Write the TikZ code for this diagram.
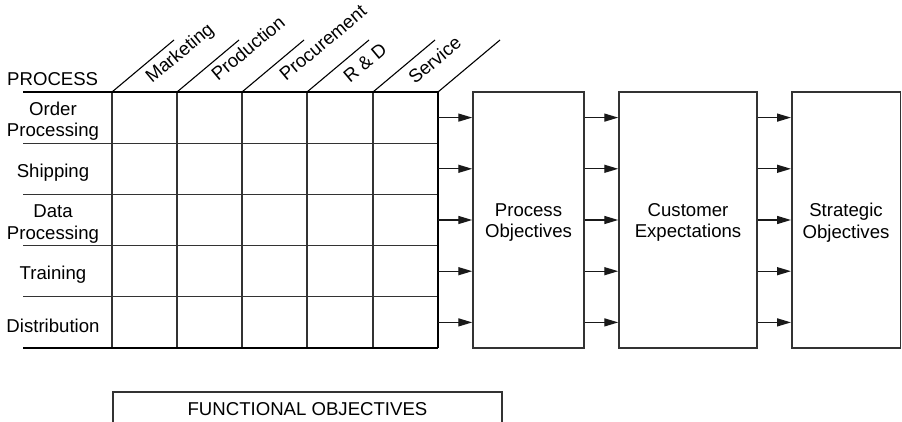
\documentclass[tikz,border=0pt]{standalone}
\usepackage{fontspec}
\setmainfont{Liberation Sans}
\usetikzlibrary{arrows.meta}
\begin{document}
\begin{tikzpicture}[x=1pt,y=-1pt,
  every node/.style={font=\fontsize{18.6}{21.5}\selectfont, text=black, inner sep=0pt},
  every label/.style={font=\fontsize{18.6}{21.5}\selectfont, text=black, inner sep=0pt, align=center},
  rowlabel/.style={align=center},
  collabel/.style={rotate=40, anchor=base west},
  thinline/.style={line width=1.3pt, black!80},
  thickline/.style={line width=2.2pt, black},
  diag/.style={line width=1.1pt, black},
  objbox/.style={draw=black!80, line width=1.5pt, minimum height=256pt},
  flow/.style={-{Triangle[length=14pt,width=8pt]}, line width=1.4pt, black!90}
]
\useasboundingbox (0,0) rectangle (902,422);

% matrix of processes against functions
\foreach \yy in {143.2,194.4,245.6,296.8}
  \draw[thinline] (23,\yy) -- (438,\yy);
\foreach \xx in {112,177,242,307,373}
  \draw[thinline] (\xx,92) -- (\xx,348);
\draw[thickline] (23,92) -- (438,92) -- (438,348);
\draw[thickline] (23,348) -- (438,348);

% slanted column headers
\foreach \xx in {112,177,242,307,373,438}
  \draw[diag] (\xx,92) -- ++(62,-52);
\node[collabel] (mkt) at (152,84) {Marketing};
\node[collabel] (prd) at (218,82) {Production};
\node[collabel] (prc) at (286,82) {Procurement};
\node[collabel] (rnd) at (350,84) {R \& D};
\node[collabel] (svc) at (415,85) {Service};

\node[anchor=base west] (proc) at (7,86) {PROCESS};

% process rows
\node[rowlabel] (r1) at (53,121) {Order\\Processing};
\node[rowlabel] (r2) at (53,173) {Shipping};
\node[rowlabel] (r3) at (53,224) {Data\\Processing};
\node[rowlabel] (r4) at (53,275) {Training};
\node[rowlabel] (r5) at (53,326) {Distribution};

\foreach \i/\yy in {1/117.6,2/168.8,3/220,4/271.2,5/322.4}
  \coordinate (g\i) at (438,\yy);

% objective boxes
\node[objbox, minimum width=111pt,
  label={[yshift=-2.5pt]center:Process\\Objectives}] (po) at (528.5,220) {};
\node[objbox, minimum width=138pt,
  label={[yshift=-2.5pt]center:Customer\\Expectations}] (ce) at (688,220) {};
\node[objbox, minimum width=108.5pt,
  label={[yshift=-2.5pt]center:Strategic\\Objectives}] (so) at (846,220) {};

\foreach \i in {1,...,5} {
  \draw[flow] (g\i) -- (g\i -| po.west);
  \draw[flow] (po.east |- g\i) -- (ce.west |- g\i);
  \draw[flow] (ce.east |- g\i) -- (so.west |- g\i);
}

% functional objectives bar
\draw[line width=1.3pt, black!80] (113,422) -- (113,392) -- (502,392) -- (502,422);
\node (fo) at (307.5,409) {FUNCTIONAL OBJECTIVES};
\end{tikzpicture}
\end{document}
